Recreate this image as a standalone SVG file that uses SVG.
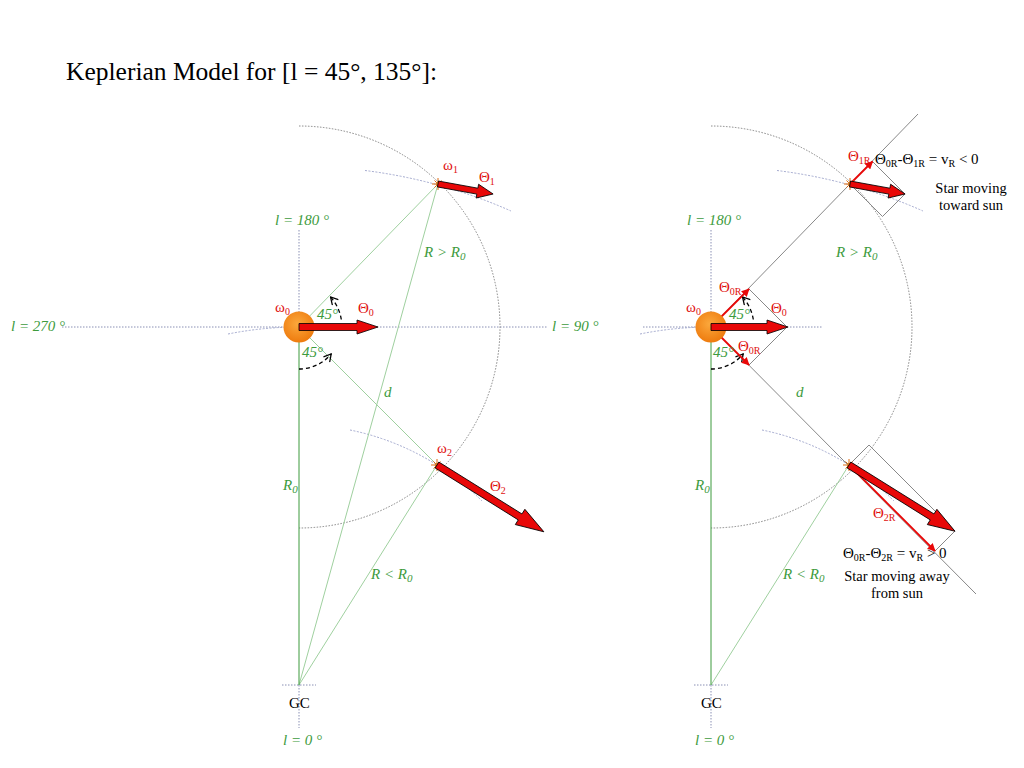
<svg xmlns="http://www.w3.org/2000/svg" width="1024" height="768" viewBox="0 0 1024 768">
<defs>
<style>
text{font-family:"Liberation Serif","Times New Roman",serif}
.t{font-size:25.5px;fill:#000}
.g{font-size:15px;font-style:italic;fill:#3d9b3d}
.r{font-size:15px;fill:#e01010}
.k{font-size:15px;fill:#000}
.s{font-size:14.5px;fill:#000}
.dot{fill:none;stroke:#8a90b4;stroke-width:1;stroke-dasharray:1.5 1.5}
.arc{fill:none;stroke:#777;stroke-width:0.9;stroke-dasharray:1.5 1.5}
.orb{fill:none;stroke:#9aa0c8;stroke-width:0.9;stroke-dasharray:2 1.5}
.lg{stroke:#9fd09f;stroke-width:1;fill:none}
.r0{stroke:#3c9a3c;stroke-width:1;fill:none}
.gr{stroke:#888;stroke-width:1;fill:none}
.big{fill:#e80808;stroke:#000;stroke-width:0.8;stroke-linejoin:miter}
.thin{stroke:#e80808;stroke-width:1.8;fill:none;marker-end:url(#rh)}
.dash{fill:none;stroke:#000;stroke-width:1.3;stroke-dasharray:4 3;marker-end:url(#vh)}
.star{stroke:#e06a10;stroke-width:1}
</style>
<radialGradient id="sun" cx="0.45" cy="0.4" r="0.6">
<stop offset="0" stop-color="#fba83c"/>
<stop offset="1" stop-color="#ee7b0e"/>
</radialGradient>
<marker id="rh" viewBox="0 0 10 10" refX="9" refY="5" markerWidth="8" markerHeight="8" orient="auto" markerUnits="userSpaceOnUse">
<path d="M0,0 L10,5 L0,10 z" fill="#e80808"/>
</marker>
<marker id="vh" viewBox="0 0 10 10" refX="9" refY="5" markerWidth="9" markerHeight="9" orient="auto" markerUnits="userSpaceOnUse">
<path d="M1,0.5 L9,5 L1,9.5" fill="none" stroke="#000" stroke-width="1.4"/>
</marker>
<g id="starmark">
<path class="star" d="M-6,0 H6 M0,-6 V6 M-3.5,-3.5 L3.5,3.5 M-3.5,3.5 L3.5,-3.5"/>
<circle r="2.2" fill="#d9822b"/>
</g>
</defs>
<rect width="1024" height="768" fill="#fff"/>
<text class="t" x="66" y="80">Keplerian Model for [l = 45°, 135°]:</text>

<g id="connectors">
<!-- left diagram -->
<path class="dot" d="M62,327 H548"/>
<path class="dot" d="M299,230 V327"/>
<path class="dot" d="M282,685 H316 M299,685 V728"/>
<path class="arc" d="M299,126 A201,201 0 0 1 299,528"/>
<path class="orb" d="M228,334 A358,358 0 0 1 299,327"/>
<path class="orb" d="M365,170.5 A518.7,518.7 0 0 1 511,211"/>
<path class="orb" d="M350,430 A259.7,259.7 0 0 1 482,501"/>
<path class="lg" d="M299,327 L438,184 M299,327 L437,465 M299,685 L438,184 M299,685 L437,465"/>
<path class="r0" d="M299,327 V685"/>
<path class="dash" d="M341.3,319.5 A43,43 0 0 0 330.5,297"/>
<path class="dash" d="M299,369 A42,42 0 0 0 331.2,354"/>
<!-- right diagram -->
<path class="dot" d="M643,327 H822"/>
<path class="dot" d="M711,230 V327"/>
<path class="dot" d="M694,685 H728 M711,685 V728"/>
<path class="arc" d="M711,126 A201,201 0 0 1 711,528"/>
<path class="orb" d="M640,334 A358,358 0 0 1 711,327"/>
<path class="orb" d="M777,170.5 A518.7,518.7 0 0 1 923,211"/>
<path class="orb" d="M762,430 A259.7,259.7 0 0 1 894,501"/>
<path class="gr" d="M711,327 L918,114 M711,327 L976,594"/>
<path class="lg" d="M711,685 L849,465"/>
<path class="r0" d="M711,327 V685"/>
<path class="gr" d="M749,289 L787,327 L749,365"/>
<path class="gr" d="M872.5,161.5 L905,194 L882.5,216.5 L850,184"/>
<path class="gr" d="M849,465 L869,445 L955,531 L935,551"/>
<path class="dash" d="M753.3,319.5 A43,43 0 0 0 742.5,297"/>
<path class="dash" d="M711,369 A42,42 0 0 0 743.2,354"/>
<path class="thin" d="M711,327 L749,289"/>
<path class="thin" d="M711,327 L749,365"/>
<path class="thin" d="M850,184 L872.5,161.5"/>
<path class="thin" d="M849,465 L935,551"/>
</g>

<g id="sun-left">
<circle cx="299" cy="327" r="15.5" fill="url(#sun)"/>
<polygon class="big" points="299,323.5 357,323.5 357,320 378,327 357,334 357,330.5 299,330.5"/>
</g>
<g id="sun-right">
<circle cx="711" cy="327" r="15.5" fill="url(#sun)"/>
<polygon class="big" points="711,323.5 767,323.5 767,320 788,327 767,334 767,330.5 711,330.5"/>
</g>
<g id="star1-left">
<use href="#starmark" x="438" y="184"/>
<polygon class="big" transform="translate(438,184) rotate(10.3)" points="0,-3 40,-3 40,-7 56,0 40,7 40,3 0,3"/>
</g>
<g id="star2-left">
<use href="#starmark" x="437" y="465"/>
<polygon class="big" transform="translate(437,465) rotate(32)" points="0,-3.5 98,-3.5 98,-9 126,0 98,9 98,3.5 0,3.5"/>
</g>
<g id="star1-right">
<use href="#starmark" x="850" y="184"/>
<polygon class="big" transform="translate(850,184) rotate(10.3)" points="0,-3 40,-3 40,-7 56,0 40,7 40,3 0,3"/>
</g>
<g id="star2-right">
<use href="#starmark" x="849" y="465"/>
<polygon class="big" transform="translate(849,465) rotate(32)" points="0,-3.5 98,-3.5 98,-9 125,0 98,9 98,3.5 0,3.5"/>
</g>

<g id="labels-left">
<text class="g" x="275" y="225">l = 180 °</text>
<text class="g" x="11" y="331">l = 270 °</text>
<text class="g" x="552" y="331">l = 90 °</text>
<text class="g" x="283" y="745">l = 0 °</text>
<text class="k" x="289" y="708">GC</text>
<text class="g" x="424" y="257">R &gt; R<tspan font-size="11" dy="3">0</tspan></text>
<text class="g" x="371" y="579">R &lt; R<tspan font-size="11" dy="3">0</tspan></text>
<text class="g" x="384" y="397">d</text>
<text class="g" x="283" y="490">R<tspan font-size="11" dy="3">0</tspan></text>
<text class="g" x="317" y="319">45°</text>
<text class="g" x="302" y="357">45°</text>
<text class="r" x="275" y="312">ω<tspan font-size="10" dy="3">0</tspan></text>
<text class="r" x="358" y="313">Θ<tspan font-size="10" dy="3">0</tspan></text>
<text class="r" x="443" y="170">ω<tspan font-size="10" dy="3">1</tspan></text>
<text class="r" x="479" y="182">Θ<tspan font-size="10" dy="3">1</tspan></text>
<text class="r" x="437" y="453">ω<tspan font-size="10" dy="3">2</tspan></text>
<text class="r" x="490" y="491">Θ<tspan font-size="10" dy="3">2</tspan></text>
</g>

<g id="labels-right">
<text class="g" x="687" y="225">l = 180 °</text>
<text class="g" x="695" y="745">l = 0 °</text>
<text class="k" x="701" y="708">GC</text>
<text class="g" x="836" y="257">R &gt; R<tspan font-size="11" dy="3">0</tspan></text>
<text class="g" x="783" y="579">R &lt; R<tspan font-size="11" dy="3">0</tspan></text>
<text class="g" x="796" y="397">d</text>
<text class="g" x="695" y="490">R<tspan font-size="11" dy="3">0</tspan></text>
<text class="g" x="729" y="319">45°</text>
<text class="g" x="713" y="357">45°</text>
<text class="r" x="686" y="312">ω<tspan font-size="10" dy="3">0</tspan></text>
<text class="r" x="771" y="313">Θ<tspan font-size="10" dy="3">0</tspan></text>
<text class="r" x="719" y="292">Θ<tspan font-size="10" dy="3">0R</tspan></text>
<text class="r" x="738" y="351">Θ<tspan font-size="10" dy="3">0R</tspan></text>
<text class="r" x="848" y="161">Θ<tspan font-size="10" dy="3">1R</tspan></text>
<text class="r" x="873" y="518">Θ<tspan font-size="10" dy="3">2R</tspan></text>
<text class="k" x="875" y="164">Θ<tspan font-size="10" dy="3">0R</tspan><tspan dy="-3">-Θ</tspan><tspan font-size="10" dy="3">1R</tspan><tspan dy="-3"> = v</tspan><tspan font-size="10" dy="3">R</tspan><tspan dy="-3"> &lt; 0</tspan></text>
<text class="s" x="971" y="193" text-anchor="middle">Star moving</text>
<text class="s" x="971" y="210" text-anchor="middle">toward sun</text>
<text class="k" x="843" y="558">Θ<tspan font-size="10" dy="3">0R</tspan><tspan dy="-3">-Θ</tspan><tspan font-size="10" dy="3">2R</tspan><tspan dy="-3"> = v</tspan><tspan font-size="10" dy="3">R</tspan><tspan dy="-3"> &gt; 0</tspan></text>
<text class="s" x="897" y="581" text-anchor="middle">Star moving away</text>
<text class="s" x="897" y="598" text-anchor="middle">from sun</text>
</g>
</svg>
